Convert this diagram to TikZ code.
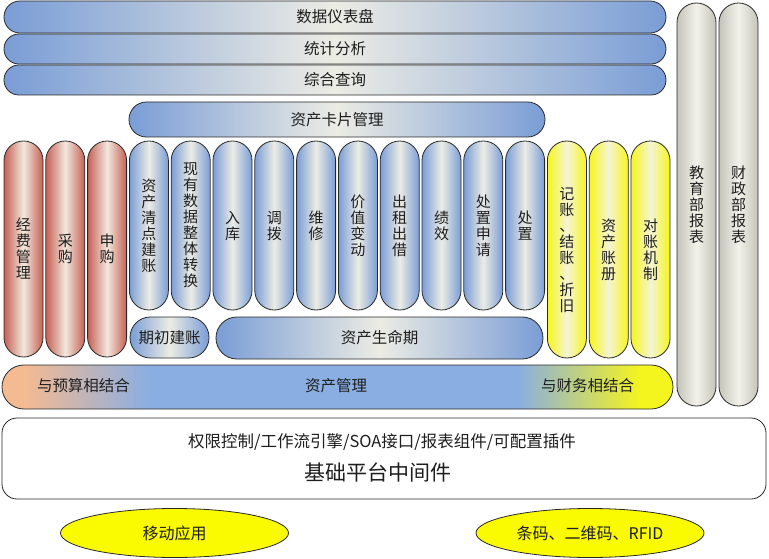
\documentclass[tikz,border=0pt]{standalone}
\usepackage{fontspec}
\setmainfont{Noto Sans CJK SC}
\usetikzlibrary{shapes.geometric}
\definecolor{blueE}{RGB}{122,157,214}
\definecolor{lightC}{RGB}{236,236,228}
\definecolor{redE}{RGB}{198,96,84}
\definecolor{redC}{RGB}{242,232,222}
\definecolor{ylwE}{RGB}{246,246,28}
\definecolor{ylwC}{RGB}{244,244,214}
\definecolor{grayE}{RGB}{196,196,186}
\definecolor{grayC}{RGB}{242,242,234}
\definecolor{orng}{RGB}{244,186,146}
\definecolor{mblue}{RGB}{138,174,226}
\definecolor{ylw}{RGB}{244,244,30}
\definecolor{txt}{RGB}{30,30,30}
\definecolor{edge}{RGB}{40,40,40}
\pgfdeclarehorizontalshading{amgmt}{100bp}{color(0bp)=(orng); color(25bp)=(orng); color(26.7bp)=(orng); color(36bp)=(mblue); color(63.4bp)=(mblue); color(72.5bp)=(ylw); color(75bp)=(ylw); color(100bp)=(ylw)}
\tikzset{
  box/.style={draw=edge, line width=0.8pt, inner sep=0pt, text=txt, align=center},
  vcol/.style={box, minimum width=39pt, rounded corners=19.4pt, font=\fontsize{15}{16}\selectfont},
  hbar/.style={box, font=\fontsize{15.5}{18}\selectfont},
  bluesh/.style={left color=blueE, right color=blueE, middle color=lightC},
  redsh/.style={left color=redE, right color=redE, middle color=redC},
  ylwsh/.style={left color=ylwE, right color=ylwE, middle color=ylwC},
  graysh/.style={left color=grayE, right color=grayE, middle color=grayC},
  bluecol/.style={vcol, bluesh, minimum height=169pt},
  redcol/.style={vcol, redsh, minimum height=216pt},
  ylwcol/.style={vcol, ylwsh, minimum height=217pt},
  graycol/.style={vcol, graysh, minimum height=403pt},
  oval/.style={ellipse, draw=edge, line width=0.8pt, fill={rgb,255:red,250;green,250;blue,0}, minimum width=228pt, minimum height=49pt, inner sep=0pt, text=txt, font=\fontsize{16}{18}\selectfont},
  plain/.style={inner sep=0pt, text=txt}
}
\begin{document}
\begin{tikzpicture}[x=1pt,y=1pt]
\useasboundingbox (0,0) rectangle (769,-559);
% top bars
\node[hbar, bluesh, minimum width=662pt, minimum height=32pt, rounded corners=15.9pt] (dash) at (335,-17) {数据仪表盘};
\node[hbar, bluesh, minimum width=662pt, minimum height=30pt, rounded corners=14.9pt] (stat) at (335,-49) {统计分析};
\node[hbar, bluesh, minimum width=662pt, minimum height=30pt, rounded corners=14.9pt] (query) at (335,-80) {综合查询};
\node[hbar, bluesh, minimum width=416pt, minimum height=35pt, rounded corners=17.4pt] (card) at (337,-119.5) {资产卡片管理};
% gray columns
\node[graycol] (edu) at (696.5,-204.5) {教\\育\\部\\报\\表};
\node[graycol] (fin) at (738.5,-204.5) {财\\政\\部\\报\\表};
% red columns
\node[redcol] (fund) at (23.5,-249) {经\\费\\管\\理};
\node[redcol] (buy) at (65.3,-249) {采\\购};
\node[redcol] (req) at (107.1,-249) {申\\购};
% blue columns
\node[bluecol] (c1) at (148.9,-225.5) {资\\产\\清\\点\\建\\账};
\node[bluecol] (c2) at (190.7,-225.5) {现\\有\\数\\据\\整\\体\\转\\换};
\node[bluecol] (c3) at (232.5,-225.5) {入\\库};
\node[bluecol] (c4) at (274.3,-225.5) {调\\拨};
\node[bluecol] (c5) at (316.1,-225.5) {维\\修};
\node[bluecol] (c6) at (357.9,-225.5) {价\\值\\变\\动};
\node[bluecol] (c7) at (399.7,-225.5) {出\\租\\出\\借};
\node[bluecol] (c8) at (441.5,-225.5) {绩\\效};
\node[bluecol] (c9) at (483.3,-225.5) {处\\置\\申\\请};
\node[bluecol] (c10) at (525.1,-225.5) {处\\置};
% yellow columns
\node[ylwcol] (y1) at (566.9,-249.5) {记\\账\\、\\结\\账\\、\\折\\旧};
\node[ylwcol] (y2) at (608.7,-249.5) {资\\产\\账\\册};
\node[ylwcol] (y3) at (650.5,-249.5) {对\\账\\机\\制};
% lower bars
\node[hbar, bluesh, minimum width=79pt, minimum height=41pt, rounded corners=20.4pt] (init) at (169.5,-337.5) {期初建账};
\node[hbar, bluesh, minimum width=327pt, minimum height=42pt, rounded corners=20.9pt] (life) at (379.5,-338) {资产生命期};
\node[box, shading=amgmt, minimum width=671pt, minimum height=44pt, rounded corners=21.9pt] (mgmt) at (337.5,-387) {};
\node[plain, font=\fontsize{15.5}{18}\selectfont] (budget) at (83.5,-386) {与预算相结合};
\node[plain, font=\fontsize{15.5}{18}\selectfont] (assetm) at (336,-386) {资产管理};
\node[plain, font=\fontsize{15.5}{18}\selectfont] (finance) at (587.5,-386) {与财务相结合};
% middleware
\node[box, fill=white, minimum width=764pt, minimum height=81pt, rounded corners=15pt] (mid) at (384,-458.5) {};
\node[plain, font=\fontsize{16.5}{18}\selectfont] (midl1) at (382,-442) {权限控制/工作流引擎/SOA接口/报表组件/可配置插件};
\node[plain, font=\fontsize{21}{24}\selectfont] (midl2) at (377.5,-472) {基础平台中间件};
% ellipses
\node[oval] (mobile) at (174.5,-533) {移动应用};
\node[oval] (rfid) at (590,-533) {条码、二维码、RFID};
\end{tikzpicture}
\end{document}
